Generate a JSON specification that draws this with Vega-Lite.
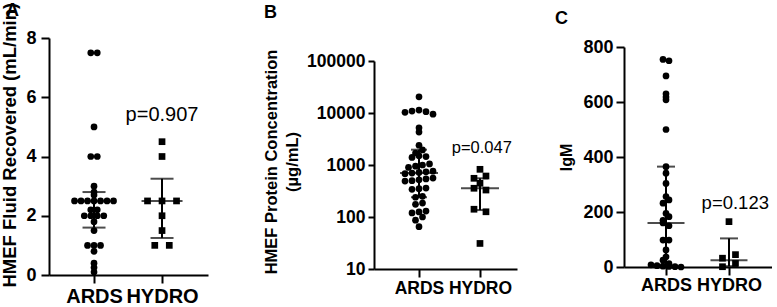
{
  "$schema": "https://vega.github.io/schema/vega-lite/v6.json",
  "background": "white",
  "padding": {"left": 0, "top": 2, "right": 0, "bottom": 0},
  "config": {
    "font": "Liberation Sans",
    "view": {"stroke": null},
    "axis": {
      "domainColor": "black", "domainWidth": 2, "tickColor": "black", "tickWidth": 2,
      "labelColor": "black", "labelFontWeight": "bold", "labelFont": "Liberation Sans",
      "titleColor": "black", "titleFontWeight": "bold", "titleFont": "Liberation Sans",
      "grid": false, "labelOverlap": false, "labelFlush": false
    },
    "title": {"anchor": "start", "frame": "group", "fontSize": 18, "fontWeight": "bold", "color": "black", "font": "Liberation Sans"}
  },
  "spacing": 55,
  "hconcat": [
    {
      "width": 159, "height": 237,
      "title": {"text": "A", "dx": -43, "offset": -18},
      "layer": [
        {
          "data": {"values": [
            {"g": "ARDS", "v": 7.5}, {"g": "ARDS", "v": 7.5}, {"g": "ARDS", "v": 5.0},
            {"g": "ARDS", "v": 4.0}, {"g": "ARDS", "v": 4.0}, {"g": "ARDS", "v": 3.0},
            {"g": "ARDS", "v": 2.8}, {"g": "ARDS", "v": 2.7},
            {"g": "ARDS", "v": 2.5}, {"g": "ARDS", "v": 2.5}, {"g": "ARDS", "v": 2.5}, {"g": "ARDS", "v": 2.5},
            {"g": "ARDS", "v": 2.5}, {"g": "ARDS", "v": 2.5}, {"g": "ARDS", "v": 2.5},
            {"g": "ARDS", "v": 2.2}, {"g": "ARDS", "v": 2.2},
            {"g": "ARDS", "v": 2.0}, {"g": "ARDS", "v": 2.0}, {"g": "ARDS", "v": 2.0}, {"g": "ARDS", "v": 2.0},
            {"g": "ARDS", "v": 1.8}, {"g": "ARDS", "v": 1.5},
            {"g": "ARDS", "v": 1.0}, {"g": "ARDS", "v": 1.0}, {"g": "ARDS", "v": 1.0},
            {"g": "ARDS", "v": 0.8}, {"g": "ARDS", "v": 0.4}, {"g": "ARDS", "v": 0.25}, {"g": "ARDS", "v": 0.1},
            {"g": "HYDRO", "v": 4.5}, {"g": "HYDRO", "v": 4.0},
            {"g": "HYDRO", "v": 2.5}, {"g": "HYDRO", "v": 2.5}, {"g": "HYDRO", "v": 2.5},
            {"g": "HYDRO", "v": 2.0}, {"g": "HYDRO", "v": 1.5},
            {"g": "HYDRO", "v": 1.0}, {"g": "HYDRO", "v": 1.0}
          ]},
          "transform": [
            {"window": [{"op": "row_number", "as": "rn"}], "groupby": ["g", "v"]},
            {"joinaggregate": [{"op": "count", "as": "n"}], "groupby": ["g", "v"]},
            {"calculate": "(datum.g=='ARDS'?1:2)+(datum.rn-(datum.n+1)/2)*(datum.g=='ARDS'?6.5:14.5)/68", "as": "xp"}
          ],
          "mark": {"type": "point", "filled": true, "opacity": 1, "size": 45, "color": "black", "strokeWidth": 0},
          "encoding": {
            "x": {"field": "xp", "type": "quantitative", "scale": {"domain": [0.338, 2.676]},
                  "axis": {"values": [1, 2], "labelExpr": "datum.value==1?'ARDS':'HYDRO'", "title": null, "labelFontSize": 20, "labelDx": 4, "labelPadding": 3, "tickSize": 8}},
            "y": {"field": "v", "type": "quantitative", "scale": {"domain": [0, 8]},
                  "axis": {"values": [0, 2, 4, 6, 8], "title": "HMEF Fluid Recovered (mL/min)", "titleFontSize": 18.5, "titleY": 249, "titleAlign": "left", "titlePadding": 6, "labelFontSize": 18, "labelPadding": 5, "tickSize": 8}},
            "shape": {"field": "g", "type": "nominal", "scale": {"domain": ["ARDS", "HYDRO"], "range": ["circle", "square"]}, "legend": null}
          }
        },
        {
          "data": {"values": [
            {"g": "ARDS", "median": 2.5, "lo": 1.6, "hi": 2.8},
            {"g": "HYDRO", "median": 2.5, "lo": 1.25, "hi": 3.25}
          ]},
          "transform": [{"calculate": "datum.g=='ARDS'?1:2", "as": "xi"}],
          "layer": [
            {"mark": {"type": "rule", "strokeWidth": 2, "color": "black"},
             "encoding": {"x": {"field": "xi", "type": "quantitative", "scale": {"domain": [0.338, 2.676]}},
                          "y": {"field": "lo", "type": "quantitative", "scale": {"domain": [0, 8]}},
                          "y2": {"field": "hi"}}},
            {"mark": {"type": "tick", "orient": "horizontal", "size": 41, "thickness": 2, "color": "black"},
             "encoding": {"x": {"field": "xi", "type": "quantitative", "scale": {"domain": [0.338, 2.676]}},
                          "y": {"field": "median", "type": "quantitative", "scale": {"domain": [0, 8]}}}},
            {"mark": {"type": "tick", "orient": "horizontal", "size": 23, "thickness": 2, "color": "black"},
             "encoding": {"x": {"field": "xi", "type": "quantitative", "scale": {"domain": [0.338, 2.676]}},
                          "y": {"field": "lo", "type": "quantitative", "scale": {"domain": [0, 8]}}}},
            {"mark": {"type": "tick", "orient": "horizontal", "size": 23, "thickness": 2, "color": "black"},
             "encoding": {"x": {"field": "xi", "type": "quantitative", "scale": {"domain": [0.338, 2.676]}},
                          "y": {"field": "hi", "type": "quantitative", "scale": {"domain": [0, 8]}}}}
          ]
        },
        {
          "data": {"values": [{"label": "p=0.907"}]},
          "mark": {"type": "text", "fontSize": 20, "font": "Liberation Sans", "baseline": "alphabetic", "align": "center", "color": "black"},
          "encoding": {
            "x": {"datum": 2, "type": "quantitative", "scale": {"domain": [0.338, 2.676]}},
            "y": {"datum": 5.2, "type": "quantitative", "scale": {"domain": [0, 8]}},
            "text": {"field": "label"}
          }
        }
      ]
    },
    {
      "spacing": 38,
      "hconcat": [
        {
          "width": 143, "height": 231,
          "title": {"text": "B", "dx": -110, "offset": 16},
          "layer": [
            {
              "data": {"values": [
                {"g": "ARDS", "v": 20500},
                {"g": "ARDS", "v": 10300}, {"g": "ARDS", "v": 10900}, {"g": "ARDS", "v": 11400}, {"g": "ARDS", "v": 10600}, {"g": "ARDS", "v": 9500},
                {"g": "ARDS", "v": 5200}, {"g": "ARDS", "v": 4300}, {"g": "ARDS", "v": 2400},
                {"g": "ARDS", "v": 1700}, {"g": "ARDS", "v": 1950},
                {"g": "ARDS", "v": 1400}, {"g": "ARDS", "v": 1500}, {"g": "ARDS", "v": 1450},
                {"g": "ARDS", "v": 900}, {"g": "ARDS", "v": 950}, {"g": "ARDS", "v": 1000}, {"g": "ARDS", "v": 1050},
                {"g": "ARDS", "v": 680}, {"g": "ARDS", "v": 700}, {"g": "ARDS", "v": 720}, {"g": "ARDS", "v": 740}, {"g": "ARDS", "v": 760},
                {"g": "ARDS", "v": 490}, {"g": "ARDS", "v": 500}, {"g": "ARDS", "v": 520}, {"g": "ARDS", "v": 540}, {"g": "ARDS", "v": 560},
                {"g": "ARDS", "v": 340}, {"g": "ARDS", "v": 350}, {"g": "ARDS", "v": 360},
                {"g": "ARDS", "v": 240}, {"g": "ARDS", "v": 250},
                {"g": "ARDS", "v": 175}, {"g": "ARDS", "v": 185},
                {"g": "ARDS", "v": 120}, {"g": "ARDS", "v": 125}, {"g": "ARDS", "v": 130},
                {"g": "ARDS", "v": 87}, {"g": "ARDS", "v": 100}, {"g": "ARDS", "v": 65},
                {"g": "HYDRO", "v": 826}, {"g": "HYDRO", "v": 555}, {"g": "HYDRO", "v": 614}, {"g": "HYDRO", "v": 445},
                {"g": "HYDRO", "v": 357}, {"g": "HYDRO", "v": 330}, {"g": "HYDRO", "v": 141}, {"g": "HYDRO", "v": 126}, {"g": "HYDRO", "v": 31}
              ]},
              "transform": [
                {"calculate": "round(log(datum.v)/LN10*8)", "as": "key"},
                {"window": [{"op": "row_number", "as": "rn"}], "groupby": ["g", "key"]},
                {"joinaggregate": [{"op": "count", "as": "n"}], "groupby": ["g", "key"]},
                {"calculate": "(datum.g=='ARDS'?1:2)+(datum.rn-(datum.n+1)/2)*(datum.g=='ARDS'?7:12)/61", "as": "xp"}
              ],
              "mark": {"type": "point", "filled": true, "opacity": 1, "size": 45, "color": "black", "strokeWidth": 0},
              "encoding": {
                "x": {"field": "xp", "type": "quantitative", "scale": {"domain": [0.262, 2.607]},
                      "axis": {"values": [1, 2], "labelExpr": "datum.value==1?'ARDS':'HYDRO'", "title": null, "labelFontSize": 17.5, "labelPadding": 2, "tickSize": 8}},
                "y": {"field": "v", "type": "quantitative", "scale": {"type": "log", "domain": [10, 100000], "range": [231, 23]},
                      "axis": {"values": [10, 100, 1000, 10000, 100000], "format": "d", "title": ["HMEF Protein Concentration", "(µg/mL)"], "titleFontSize": 16.5, "titleLineHeight": 21, "titleY": 123.5, "titlePadding": 6, "labelFontSize": 17.5, "labelPadding": 3, "tickSize": 6}},
                "shape": {"field": "g", "type": "nominal", "scale": {"domain": ["ARDS", "HYDRO"], "range": ["circle", "square"]}, "legend": null}
              }
            },
            {
              "data": {"values": [
                {"g": "ARDS", "median": 700, "lo": 240, "hi": 1970},
                {"g": "HYDRO", "median": 357, "lo": 136, "hi": 555}
              ]},
              "transform": [{"calculate": "datum.g=='ARDS'?1:2", "as": "xi"}],
              "layer": [
                {"mark": {"type": "rule", "strokeWidth": 2, "color": "black"},
                 "encoding": {"x": {"field": "xi", "type": "quantitative", "scale": {"domain": [0.262, 2.607]}},
                              "y": {"field": "lo", "type": "quantitative", "scale": {"type": "log", "domain": [10, 100000], "range": [231, 23]}},
                              "y2": {"field": "hi"}}},
                {"mark": {"type": "tick", "orient": "horizontal", "size": 38, "thickness": 2, "color": "black"},
                 "encoding": {"x": {"field": "xi", "type": "quantitative", "scale": {"domain": [0.262, 2.607]}},
                              "y": {"field": "median", "type": "quantitative", "scale": {"type": "log", "domain": [10, 100000], "range": [231, 23]}}}},
                {"mark": {"type": "tick", "orient": "horizontal", "size": 16, "thickness": 2, "color": "black"},
                 "encoding": {"x": {"field": "xi", "type": "quantitative", "scale": {"domain": [0.262, 2.607]}},
                              "y": {"field": "lo", "type": "quantitative", "scale": {"type": "log", "domain": [10, 100000], "range": [231, 23]}}}},
                {"mark": {"type": "tick", "orient": "horizontal", "size": 16, "thickness": 2, "color": "black"},
                 "encoding": {"x": {"field": "xi", "type": "quantitative", "scale": {"domain": [0.262, 2.607]}},
                              "y": {"field": "hi", "type": "quantitative", "scale": {"type": "log", "domain": [10, 100000], "range": [231, 23]}}}}
              ]
            },
            {
              "data": {"values": [{"label": "p=0.047"}]},
              "mark": {"type": "text", "fontSize": 16.5, "font": "Liberation Sans", "baseline": "alphabetic", "align": "center", "color": "black"},
              "encoding": {
                "x": {"datum": 2.03, "type": "quantitative", "scale": {"domain": [0.262, 2.607]}},
                "y": {"datum": 1700, "type": "quantitative", "scale": {"type": "log", "domain": [10, 100000], "range": [231, 23]}},
                "text": {"field": "label"}
              }
            }
          ]
        },
        {
          "width": 148, "height": 229,
          "title": {"text": "C", "dx": -69, "offset": 10},
          "layer": [
            {
              "data": {"values": [
                {"g": "ARDS", "v": 755}, {"g": "ARDS", "v": 750}, {"g": "ARDS", "v": 695},
                {"g": "ARDS", "v": 630}, {"g": "ARDS", "v": 618}, {"g": "ARDS", "v": 608},
                {"g": "ARDS", "v": 500}, {"g": "ARDS", "v": 365}, {"g": "ARDS", "v": 341}, {"g": "ARDS", "v": 304},
                {"g": "ARDS", "v": 256}, {"g": "ARDS", "v": 232}, {"g": "ARDS", "v": 244},
                {"g": "ARDS", "v": 195}, {"g": "ARDS", "v": 170}, {"g": "ARDS", "v": 183},
                {"g": "ARDS", "v": 160}, {"g": "ARDS", "v": 150},
                {"g": "ARDS", "v": 98}, {"g": "ARDS", "v": 98}, {"g": "ARDS", "v": 62}, {"g": "ARDS", "v": 37},
                {"g": "ARDS", "v": 25}, {"g": "ARDS", "v": 12},
                {"g": "ARDS", "v": 8}, {"g": "ARDS", "v": 5}, {"g": "ARDS", "v": 3}, {"g": "ARDS", "v": 2}, {"g": "ARDS", "v": 1}, {"g": "ARDS", "v": 0},
                {"g": "HYDRO", "v": 165}, {"g": "HYDRO", "v": 32}, {"g": "HYDRO", "v": 45}, {"g": "HYDRO", "v": 1}, {"g": "HYDRO", "v": 13}
              ]},
              "transform": [
                {"calculate": "datum.g=='ARDS'?round(datum.v/20):round(datum.v/40)", "as": "key"},
                {"window": [{"op": "row_number", "as": "rn"}], "groupby": ["g", "key"]},
                {"joinaggregate": [{"op": "count", "as": "n"}], "groupby": ["g", "key"]},
                {"calculate": "(datum.g=='ARDS'?1:2)+(datum.rn-(datum.n+1)/2)*(datum.g=='ARDS'?6:13)/63", "as": "xp"}
              ],
              "mark": {"type": "point", "filled": true, "opacity": 1, "size": 45, "color": "black", "strokeWidth": 0},
              "encoding": {
                "x": {"field": "xp", "type": "quantitative", "scale": {"domain": [0.333, 2.683]},
                      "axis": {"values": [1, 2], "labelExpr": "datum.value==1?'ARDS':'HYDRO'", "title": null, "labelFontSize": 18, "labelPadding": 1, "tickSize": 8}},
                "y": {"field": "v", "type": "quantitative", "scale": {"domain": [0, 800], "range": [229, 9]},
                      "axis": {"values": [0, 200, 400, 600, 800], "title": "IgM", "titleFontSize": 16, "titlePadding": 8, "labelFontSize": 18, "labelPadding": 3, "tickSize": 8}},
                "shape": {"field": "g", "type": "nominal", "scale": {"domain": ["ARDS", "HYDRO"], "range": ["circle", "square"]}, "legend": null}
              }
            },
            {
              "data": {"values": [
                {"g": "ARDS", "median": 160, "lo": 5, "hi": 365},
                {"g": "HYDRO", "median": 25, "lo": 3, "hi": 104}
              ]},
              "transform": [{"calculate": "datum.g=='ARDS'?1:2", "as": "xi"}],
              "layer": [
                {"mark": {"type": "rule", "strokeWidth": 2, "color": "black"},
                 "encoding": {"x": {"field": "xi", "type": "quantitative", "scale": {"domain": [0.333, 2.683]}},
                              "y": {"field": "lo", "type": "quantitative", "scale": {"domain": [0, 800], "range": [229, 9]}},
                              "y2": {"field": "hi"}}},
                {"mark": {"type": "tick", "orient": "horizontal", "size": 37, "thickness": 2, "color": "black"},
                 "encoding": {"x": {"field": "xi", "type": "quantitative", "scale": {"domain": [0.333, 2.683]}},
                              "y": {"field": "median", "type": "quantitative", "scale": {"domain": [0, 800], "range": [229, 9]}}}},
                {"mark": {"type": "tick", "orient": "horizontal", "size": 18, "thickness": 2, "color": "black"},
                 "encoding": {"x": {"field": "xi", "type": "quantitative", "scale": {"domain": [0.333, 2.683]}},
                              "y": {"field": "lo", "type": "quantitative", "scale": {"domain": [0, 800], "range": [229, 9]}}}},
                {"mark": {"type": "tick", "orient": "horizontal", "size": 18, "thickness": 2, "color": "black"},
                 "encoding": {"x": {"field": "xi", "type": "quantitative", "scale": {"domain": [0.333, 2.683]}},
                              "y": {"field": "hi", "type": "quantitative", "scale": {"domain": [0, 800], "range": [229, 9]}}}}
              ]
            },
            {
              "data": {"values": [{"label": "p=0.123"}]},
              "mark": {"type": "text", "fontSize": 18.5, "font": "Liberation Sans", "baseline": "alphabetic", "align": "center", "color": "black"},
              "encoding": {
                "x": {"datum": 2.1, "type": "quantitative", "scale": {"domain": [0.333, 2.683]}},
                "y": {"datum": 211, "type": "quantitative", "scale": {"domain": [0, 800], "range": [229, 9]}},
                "text": {"field": "label"}
              }
            }
          ]
        }
      ]
    }
  ]
}
